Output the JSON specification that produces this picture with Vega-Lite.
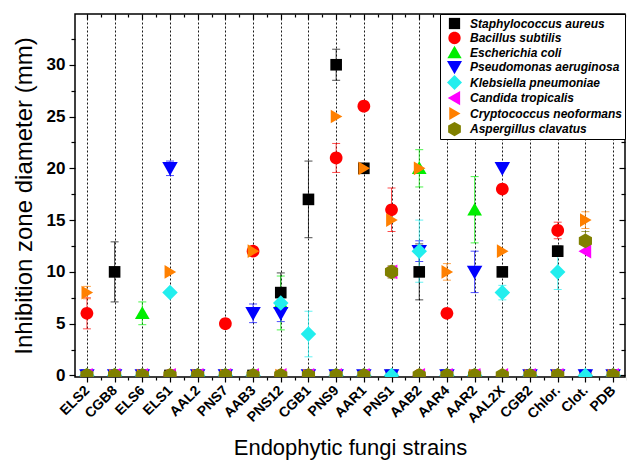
{
  "$schema": "https://vega.github.io/schema/vega-lite/v6.json",
  "autosize": "none",
  "width": 550,
  "height": 363,
  "padding": {"left": 75, "top": 14, "right": 2, "bottom": 86},
  "background": "white",
  "config": {
    "font": "Liberation Sans",
    "view": {"stroke": "black", "strokeWidth": 1.5},
    "axis": {"labelColor": "black", "titleColor": "black", "tickColor": "black", "domain": false, "grid": false, "tickWidth": 1.2},
    "legend": {
      "orient": "top-right", "offset": 0, "strokeColor": "black", "fillColor": "white", "padding": 2,
      "labelFont": "Liberation Sans", "labelFontStyle": "italic", "labelFontWeight": "bold", "labelFontSize": 12, "labelColor": "black",
      "symbolSize": 225, "rowPadding": 0.5, "symbolOffset": 5, "labelOffset": 8, "labelLimit": 300, "symbolStrokeWidth": 0, "symbolOpacity": 1
    }
  },
  "data": {"values": [
    {"strain":"ELS2","species":"Staphylococcus aureus","value":0},
    {"strain":"CGB8","species":"Staphylococcus aureus","value":10,"err":2.9},
    {"strain":"ELS6","species":"Staphylococcus aureus","value":0},
    {"strain":"ELS1","species":"Staphylococcus aureus","value":0},
    {"strain":"AAL2","species":"Staphylococcus aureus","value":0},
    {"strain":"PNS7","species":"Staphylococcus aureus","value":0},
    {"strain":"AAB3","species":"Staphylococcus aureus","value":0},
    {"strain":"PNS12","species":"Staphylococcus aureus","value":8,"err":1.9},
    {"strain":"CGB1","species":"Staphylococcus aureus","value":17,"err":3.7},
    {"strain":"PNS9","species":"Staphylococcus aureus","value":30,"err":1.5},
    {"strain":"AAR1","species":"Staphylococcus aureus","value":20},
    {"strain":"PNS1","species":"Staphylococcus aureus","value":0},
    {"strain":"AAB2","species":"Staphylococcus aureus","value":10,"err":2.7},
    {"strain":"AAR4","species":"Staphylococcus aureus","value":0},
    {"strain":"AAR2","species":"Staphylococcus aureus","value":0},
    {"strain":"AAL2X","species":"Staphylococcus aureus","value":10},
    {"strain":"CGB2","species":"Staphylococcus aureus","value":0},
    {"strain":"Chlor.","species":"Staphylococcus aureus","value":12,"err":0.5},
    {"strain":"Clot.","species":"Staphylococcus aureus","value":0},
    {"strain":"PDB","species":"Staphylococcus aureus","value":0},

    {"strain":"ELS2","species":"Bacillus subtilis","value":6,"err":1.5},
    {"strain":"CGB8","species":"Bacillus subtilis","value":0},
    {"strain":"ELS6","species":"Bacillus subtilis","value":0},
    {"strain":"ELS1","species":"Bacillus subtilis","value":0},
    {"strain":"AAL2","species":"Bacillus subtilis","value":0},
    {"strain":"PNS7","species":"Bacillus subtilis","value":5},
    {"strain":"AAB3","species":"Bacillus subtilis","value":12},
    {"strain":"PNS12","species":"Bacillus subtilis","value":0},
    {"strain":"CGB1","species":"Bacillus subtilis","value":0},
    {"strain":"PNS9","species":"Bacillus subtilis","value":21,"err":1.4},
    {"strain":"AAR1","species":"Bacillus subtilis","value":26},
    {"strain":"PNS1","species":"Bacillus subtilis","value":16,"err":2.1},
    {"strain":"AAB2","species":"Bacillus subtilis","value":0},
    {"strain":"AAR4","species":"Bacillus subtilis","value":6},
    {"strain":"AAR2","species":"Bacillus subtilis","value":0},
    {"strain":"AAL2X","species":"Bacillus subtilis","value":18},
    {"strain":"CGB2","species":"Bacillus subtilis","value":0},
    {"strain":"Chlor.","species":"Bacillus subtilis","value":14,"err":0.8},
    {"strain":"Clot.","species":"Bacillus subtilis","value":0},
    {"strain":"PDB","species":"Bacillus subtilis","value":0},

    {"strain":"ELS2","species":"Escherichia coli","value":0},
    {"strain":"CGB8","species":"Escherichia coli","value":0},
    {"strain":"ELS6","species":"Escherichia coli","value":6,"err":1.1},
    {"strain":"ELS1","species":"Escherichia coli","value":0},
    {"strain":"AAL2","species":"Escherichia coli","value":0},
    {"strain":"PNS7","species":"Escherichia coli","value":0},
    {"strain":"AAB3","species":"Escherichia coli","value":0},
    {"strain":"PNS12","species":"Escherichia coli","value":7,"err":2.6},
    {"strain":"CGB1","species":"Escherichia coli","value":0},
    {"strain":"PNS9","species":"Escherichia coli","value":0},
    {"strain":"AAR1","species":"Escherichia coli","value":0},
    {"strain":"PNS1","species":"Escherichia coli","value":0},
    {"strain":"AAB2","species":"Escherichia coli","value":20,"err":1.8},
    {"strain":"AAR4","species":"Escherichia coli","value":0},
    {"strain":"AAR2","species":"Escherichia coli","value":16,"err":3.2},
    {"strain":"AAL2X","species":"Escherichia coli","value":0},
    {"strain":"CGB2","species":"Escherichia coli","value":0},
    {"strain":"Chlor.","species":"Escherichia coli","value":0},
    {"strain":"Clot.","species":"Escherichia coli","value":0},
    {"strain":"PDB","species":"Escherichia coli","value":0},

    {"strain":"ELS2","species":"Pseudomonas aeruginosa","value":0},
    {"strain":"CGB8","species":"Pseudomonas aeruginosa","value":0},
    {"strain":"ELS6","species":"Pseudomonas aeruginosa","value":0},
    {"strain":"ELS1","species":"Pseudomonas aeruginosa","value":20,"err":0.7},
    {"strain":"AAL2","species":"Pseudomonas aeruginosa","value":0},
    {"strain":"PNS7","species":"Pseudomonas aeruginosa","value":0},
    {"strain":"AAB3","species":"Pseudomonas aeruginosa","value":6,"err":0.9},
    {"strain":"PNS12","species":"Pseudomonas aeruginosa","value":6,"err":0.8},
    {"strain":"CGB1","species":"Pseudomonas aeruginosa","value":0},
    {"strain":"PNS9","species":"Pseudomonas aeruginosa","value":0},
    {"strain":"AAR1","species":"Pseudomonas aeruginosa","value":0},
    {"strain":"PNS1","species":"Pseudomonas aeruginosa","value":0},
    {"strain":"AAB2","species":"Pseudomonas aeruginosa","value":12,"err":1},
    {"strain":"AAR4","species":"Pseudomonas aeruginosa","value":0},
    {"strain":"AAR2","species":"Pseudomonas aeruginosa","value":10,"err":2},
    {"strain":"AAL2X","species":"Pseudomonas aeruginosa","value":20},
    {"strain":"CGB2","species":"Pseudomonas aeruginosa","value":0},
    {"strain":"Chlor.","species":"Pseudomonas aeruginosa","value":0},
    {"strain":"Clot.","species":"Pseudomonas aeruginosa","value":0},
    {"strain":"PDB","species":"Pseudomonas aeruginosa","value":0},

    {"strain":"ELS2","species":"Klebsiella pneumoniae","value":0},
    {"strain":"CGB8","species":"Klebsiella pneumoniae","value":0},
    {"strain":"ELS6","species":"Klebsiella pneumoniae","value":0},
    {"strain":"ELS1","species":"Klebsiella pneumoniae","value":8},
    {"strain":"AAL2","species":"Klebsiella pneumoniae","value":0},
    {"strain":"PNS7","species":"Klebsiella pneumoniae","value":0},
    {"strain":"AAB3","species":"Klebsiella pneumoniae","value":0},
    {"strain":"PNS12","species":"Klebsiella pneumoniae","value":7,"err":0.7},
    {"strain":"CGB1","species":"Klebsiella pneumoniae","value":4,"err":2.2},
    {"strain":"PNS9","species":"Klebsiella pneumoniae","value":0},
    {"strain":"AAR1","species":"Klebsiella pneumoniae","value":0},
    {"strain":"PNS1","species":"Klebsiella pneumoniae","value":0},
    {"strain":"AAB2","species":"Klebsiella pneumoniae","value":12,"err":3},
    {"strain":"AAR4","species":"Klebsiella pneumoniae","value":0},
    {"strain":"AAR2","species":"Klebsiella pneumoniae","value":0},
    {"strain":"AAL2X","species":"Klebsiella pneumoniae","value":8,"err":0.7},
    {"strain":"CGB2","species":"Klebsiella pneumoniae","value":0},
    {"strain":"Chlor.","species":"Klebsiella pneumoniae","value":10,"err":1.7},
    {"strain":"Clot.","species":"Klebsiella pneumoniae","value":0},
    {"strain":"PDB","species":"Klebsiella pneumoniae","value":0},

    {"strain":"ELS2","species":"Candida tropicalis","value":0},
    {"strain":"CGB8","species":"Candida tropicalis","value":0},
    {"strain":"ELS6","species":"Candida tropicalis","value":0},
    {"strain":"ELS1","species":"Candida tropicalis","value":0},
    {"strain":"AAL2","species":"Candida tropicalis","value":0},
    {"strain":"PNS7","species":"Candida tropicalis","value":0},
    {"strain":"AAB3","species":"Candida tropicalis","value":0},
    {"strain":"PNS12","species":"Candida tropicalis","value":0},
    {"strain":"CGB1","species":"Candida tropicalis","value":0},
    {"strain":"PNS9","species":"Candida tropicalis","value":0},
    {"strain":"AAR1","species":"Candida tropicalis","value":0},
    {"strain":"PNS1","species":"Candida tropicalis","value":10,"err":0.5},
    {"strain":"AAB2","species":"Candida tropicalis","value":0},
    {"strain":"AAR4","species":"Candida tropicalis","value":0},
    {"strain":"AAR2","species":"Candida tropicalis","value":0},
    {"strain":"AAL2X","species":"Candida tropicalis","value":0},
    {"strain":"CGB2","species":"Candida tropicalis","value":0},
    {"strain":"Chlor.","species":"Candida tropicalis","value":0},
    {"strain":"Clot.","species":"Candida tropicalis","value":12},
    {"strain":"PDB","species":"Candida tropicalis","value":0},

    {"strain":"ELS2","species":"Cryptococcus neoformans","value":8,"err":0.6},
    {"strain":"CGB8","species":"Cryptococcus neoformans","value":0},
    {"strain":"ELS6","species":"Cryptococcus neoformans","value":0},
    {"strain":"ELS1","species":"Cryptococcus neoformans","value":10},
    {"strain":"AAL2","species":"Cryptococcus neoformans","value":0},
    {"strain":"PNS7","species":"Cryptococcus neoformans","value":0},
    {"strain":"AAB3","species":"Cryptococcus neoformans","value":12,"err":0.3},
    {"strain":"PNS12","species":"Cryptococcus neoformans","value":0},
    {"strain":"CGB1","species":"Cryptococcus neoformans","value":0},
    {"strain":"PNS9","species":"Cryptococcus neoformans","value":25},
    {"strain":"AAR1","species":"Cryptococcus neoformans","value":20},
    {"strain":"PNS1","species":"Cryptococcus neoformans","value":15},
    {"strain":"AAB2","species":"Cryptococcus neoformans","value":20},
    {"strain":"AAR4","species":"Cryptococcus neoformans","value":10,"err":0.8},
    {"strain":"AAR2","species":"Cryptococcus neoformans","value":0},
    {"strain":"AAL2X","species":"Cryptococcus neoformans","value":12},
    {"strain":"CGB2","species":"Cryptococcus neoformans","value":0},
    {"strain":"Chlor.","species":"Cryptococcus neoformans","value":0},
    {"strain":"Clot.","species":"Cryptococcus neoformans","value":15,"err":0.8},
    {"strain":"PDB","species":"Cryptococcus neoformans","value":0},

    {"strain":"ELS2","species":"Aspergillus clavatus","value":0},
    {"strain":"CGB8","species":"Aspergillus clavatus","value":0},
    {"strain":"ELS6","species":"Aspergillus clavatus","value":0},
    {"strain":"ELS1","species":"Aspergillus clavatus","value":0},
    {"strain":"AAL2","species":"Aspergillus clavatus","value":0},
    {"strain":"PNS7","species":"Aspergillus clavatus","value":0},
    {"strain":"AAB3","species":"Aspergillus clavatus","value":0},
    {"strain":"PNS12","species":"Aspergillus clavatus","value":0},
    {"strain":"CGB1","species":"Aspergillus clavatus","value":0},
    {"strain":"PNS9","species":"Aspergillus clavatus","value":0},
    {"strain":"AAR1","species":"Aspergillus clavatus","value":0},
    {"strain":"PNS1","species":"Aspergillus clavatus","value":10,"err":0.6},
    {"strain":"AAB2","species":"Aspergillus clavatus","value":0},
    {"strain":"AAR4","species":"Aspergillus clavatus","value":0},
    {"strain":"AAR2","species":"Aspergillus clavatus","value":0},
    {"strain":"AAL2X","species":"Aspergillus clavatus","value":0},
    {"strain":"CGB2","species":"Aspergillus clavatus","value":0},
    {"strain":"Chlor.","species":"Aspergillus clavatus","value":0},
    {"strain":"Clot.","species":"Aspergillus clavatus","value":13,"err":0.9},
    {"strain":"PDB","species":"Aspergillus clavatus","value":0}
  ]},
  "layer": [
    {
      "transform": [{"filter": "datum.err > 0"}],
      "mark": {"type": "errorbar", "ticks": {"size": 8, "opacity": 0.7}, "rule": {"opacity": 0.7}, "clip": true},
      "encoding": {
        "x": {"field": "strain", "type": "nominal",
          "sort": ["ELS2","CGB8","ELS6","ELS1","AAL2","PNS7","AAB3","PNS12","CGB1","PNS9","AAR1","PNS1","AAB2","AAR4","AAR2","AAL2X","CGB2","Chlor.","Clot.","PDB"],
          "scale": {"type": "point", "padding": 0.43},
          "axis": {"orient": "bottom", "title": "Endophytic fungi strains", "titleFontSize": 22, "titleFontWeight": "normal", "titlePadding": 12,
            "labelAngle": -45, "labelAlign": "right", "labelBaseline": "middle", "labelFontSize": 14, "labelFontWeight": "bold", "labelPadding": 6,
            "tickSize": 5, "grid": true, "gridColor": "black", "gridDash": [2, 2], "gridWidth": 1, "gridOpacity": 0.9}},
        "y": {"field": "value", "type": "quantitative",
          "scale": {"domain": [-0.15, 34.9], "nice": false, "zero": false},
          "axis": {"orient": "left", "title": "Inhibition zone diameter (mm)", "titleFontSize": 24, "titleFontWeight": "normal", "titlePadding": 10,
            "values": [0, 5, 10, 15, 20, 25, 30], "labelFontSize": 17, "labelFontWeight": "bold", "labelPadding": 4, "tickSize": 6}},
        "yError": {"field": "err"},
        "color": {"field": "species", "type": "nominal",
          "scale": {"domain": ["Staphylococcus aureus","Bacillus subtilis","Escherichia coli","Pseudomonas aeruginosa","Klebsiella pneumoniae","Candida tropicalis","Cryptococcus neoformans","Aspergillus clavatus"],
            "range": ["#000000","#ff0000","#00ee00","#0000ff","#22eeee","#ff00ff","#ff8000","#808000"]}, "title": null}
      }
    },
    {
      "mark": {"type": "point", "filled": true, "opacity": 1, "size": 240, "strokeWidth": 0, "clip": true},
      "encoding": {
        "x": {"field": "strain", "type": "nominal",
          "sort": ["ELS2","CGB8","ELS6","ELS1","AAL2","PNS7","AAB3","PNS12","CGB1","PNS9","AAR1","PNS1","AAB2","AAR4","AAR2","AAL2X","CGB2","Chlor.","Clot.","PDB"],
          "scale": {"type": "point", "padding": 0.43},
          "axis": {"orient": "bottom", "title": null, "labels": false, "tickSize": 3, "tickOffset": 13.85}},
        "y": {"field": "value", "type": "quantitative",
          "scale": {"domain": [-0.15, 34.9], "nice": false, "zero": false},
          "axis": {"orient": "left", "title": null, "labels": false, "values": [2.5, 7.5, 12.5, 17.5, 22.5, 27.5, 32.5], "tickSize": 4}},
        "color": {"field": "species", "type": "nominal",
          "scale": {"domain": ["Staphylococcus aureus","Bacillus subtilis","Escherichia coli","Pseudomonas aeruginosa","Klebsiella pneumoniae","Candida tropicalis","Cryptococcus neoformans","Aspergillus clavatus"],
            "range": ["#000000","#ff0000","#00ee00","#0000ff","#22eeee","#ff00ff","#ff8000","#808000"]}, "title": null},
        "shape": {"field": "species", "type": "nominal",
          "scale": {"domain": ["Staphylococcus aureus","Bacillus subtilis","Escherichia coli","Pseudomonas aeruginosa","Klebsiella pneumoniae","Candida tropicalis","Cryptococcus neoformans","Aspergillus clavatus"],
            "range": [
              "M-0.75,-0.75L0.75,-0.75L0.75,0.75L-0.75,0.75Z",
              "M0.82,0A0.82,0.82 0 1,1 -0.82,0A0.82,0.82 0 1,1 0.82,0Z",
              "M0,-0.9L0.95,0.75L-0.95,0.75Z",
              "M-1,-0.8L1,-0.8L0,0.95Z",
              "M0,-1L1,0L0,1L-1,0Z",
              "M-0.9,0L0.75,-0.95L0.75,0.95Z",
              "M0.8,0L-0.7,-0.88L-0.7,0.88Z",
              "M0,-0.95L0.85,-0.47L0.85,0.47L0,0.95L-0.85,0.47L-0.85,-0.47Z"
            ]}, "title": null}
      }
    },
    {
      "mark": {"type": "point", "opacity": 0, "size": 0},
      "encoding": {
        "x": {"field": "strain", "type": "nominal",
          "sort": ["ELS2","CGB8","ELS6","ELS1","AAL2","PNS7","AAB3","PNS12","CGB1","PNS9","AAR1","PNS1","AAB2","AAR4","AAR2","AAL2X","CGB2","Chlor.","Clot.","PDB"],
          "scale": {"type": "point", "padding": 0.43},
          "axis": {"orient": "top", "title": null, "labels": false, "tickSize": -5}},
        "y": {"field": "value", "type": "quantitative",
          "scale": {"domain": [-0.15, 34.9], "nice": false, "zero": false},
          "axis": {"orient": "right", "title": null, "labels": false, "values": [0, 5, 10, 15, 20, 25, 30], "tickSize": -6}}
      }
    },
    {
      "mark": {"type": "point", "opacity": 0, "size": 0},
      "encoding": {
        "x": {"field": "strain", "type": "nominal",
          "sort": ["ELS2","CGB8","ELS6","ELS1","AAL2","PNS7","AAB3","PNS12","CGB1","PNS9","AAR1","PNS1","AAB2","AAR4","AAR2","AAL2X","CGB2","Chlor.","Clot.","PDB"],
          "scale": {"type": "point", "padding": 0.43},
          "axis": {"orient": "top", "title": null, "labels": false, "tickSize": -3, "tickOffset": 13.85}},
        "y": {"field": "value", "type": "quantitative",
          "scale": {"domain": [-0.15, 34.9], "nice": false, "zero": false},
          "axis": {"orient": "right", "title": null, "labels": false, "values": [2.5, 7.5, 12.5, 17.5, 22.5, 27.5, 32.5], "tickSize": -4}}
      }
    }
  ],
  "resolve": {"axis": {"x": "independent", "y": "independent"}}
}
